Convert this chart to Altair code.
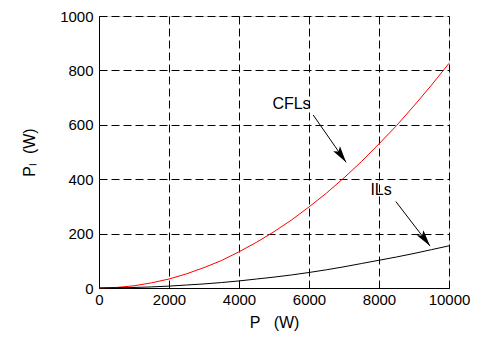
import altair as alt
import pandas as pd

# Data
p_w = [0, 500, 1000, 1500, 2000, 2500, 3000, 3500, 4000, 4500, 5000, 5500, 6000,
       6500, 7000, 7500, 8000, 8500, 9000, 9500, 10000]
cfl_loss = [0, 2, 8, 19, 33, 52, 75, 101, 133, 168, 207, 250, 298,
            349, 405, 465, 530, 597, 670, 746, 826]
il_loss = [0, 1, 2, 4, 7, 11, 15, 20, 26, 33, 40, 48, 57,
           67, 78, 90, 102, 114, 127, 141, 155]

labels = ["CFLs", "ILs"]
label_x = [5500, 8060]
label_y = [676, 362]
arrow_x0 = [6120, 8480]
arrow_y0 = [636, 318]
arrow_x1 = [7060, 9460]
arrow_y1 = [462, 154]
arrow_angle = [145, 143]

df = pd.DataFrame({
    "P": p_w * 2,
    "Pl": cfl_loss + il_loss,
    "series": ["CFLs"] * len(p_w) + ["ILs"] * len(p_w),
})
ann = pd.DataFrame({
    "label": labels, "lx": label_x, "ly": label_y,
    "x0": arrow_x0, "y0": arrow_y0, "x1": arrow_x1, "y1": arrow_y1,
    "angle": arrow_angle,
})

FONT = "Liberation Sans"
xs = alt.Scale(domain=[0, 10000], nice=False)
ys = alt.Scale(domain=[0, 1000], nice=False)
NB = "\u00a0"

x_axis = alt.Axis(values=[0, 2000, 4000, 6000, 8000, 10000], format="d",
                  title="P" + NB * 3 + "(W)",
                  grid=True, gridColor="black", gridDash=[8, 4], gridOpacity=1,
                  ticks=False, labelPadding=4, labelFontSize=15, titleFontSize=16,
                  labelFont=FONT, titleFont=FONT, titleFontWeight="normal",
                  labelColor="black", titleColor="black", domainColor="black",
                  titlePadding=7, labelFlush=False)
y_axis = alt.Axis(values=[0, 200, 400, 600, 800, 1000], format="d",
                  title="P\u2097" + NB * 2 + "(W)",
                  grid=True, gridColor="black", gridDash=[8, 4], gridOpacity=1,
                  ticks=False, labelPadding=6, labelFontSize=15, titleFontSize=16,
                  labelFont=FONT, titleFont=FONT, titleFontWeight="normal",
                  labelColor="black", titleColor="black", domainColor="black",
                  titlePadding=22, labelFlush=False)

lines = alt.Chart(df).mark_line(strokeWidth=1).encode(
    x=alt.X("P:Q", scale=xs, axis=x_axis),
    y=alt.Y("Pl:Q", scale=ys, axis=y_axis),
    color=alt.Color("series:N", scale=alt.Scale(domain=["CFLs", "ILs"], range=["#ff0000", "#000000"]), legend=None),
)

texts = alt.Chart(ann).mark_text(font=FONT, fontSize=16, color="black").encode(
    x=alt.X("lx:Q", scale=xs), y=alt.Y("ly:Q", scale=ys), text="label:N")

shafts = alt.Chart(ann).mark_rule(color="black", strokeWidth=1).encode(
    x=alt.X("x0:Q", scale=xs), y=alt.Y("y0:Q", scale=ys),
    x2="x1:Q", y2="y1:Q")

heads = alt.Chart(ann).mark_point(
    shape="M0,0 L-0.25,1 L0,0.8 L0.25,1 Z", filled=True, color="black",
    opacity=1, size=1100, strokeWidth=0).encode(
    x=alt.X("x1:Q", scale=xs), y=alt.Y("y1:Q", scale=ys),
    angle=alt.Angle("angle:Q", scale=None))

chart = alt.layer(lines, shafts, heads, texts).properties(
    width=350, height=272, autosize="none",
    padding={"left": 91, "top": 8, "right": 36, "bottom": 44},
).configure_view(stroke="black", strokeWidth=1.5).configure(background="white")

chart.save("out.html", embed_options={"renderer": "svg", "actions": False})
